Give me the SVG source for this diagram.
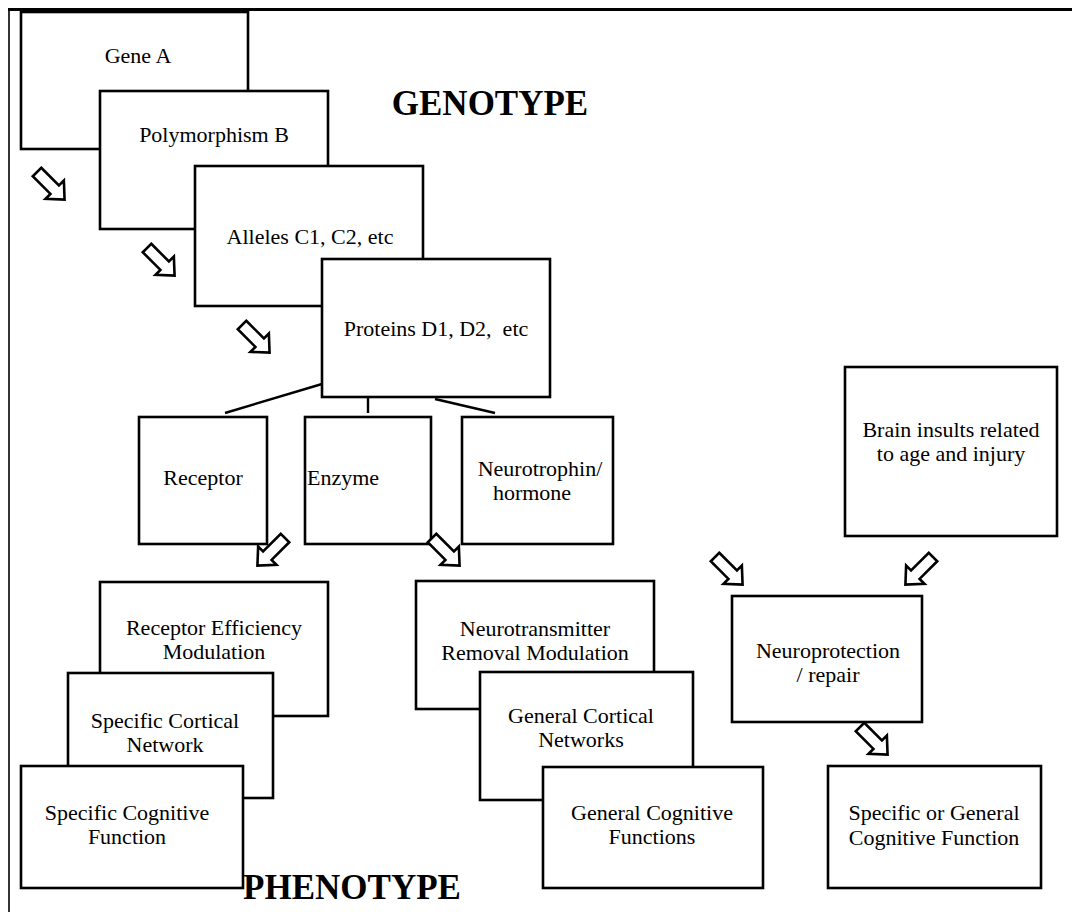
<svg xmlns="http://www.w3.org/2000/svg" xmlns:xlink="http://www.w3.org/1999/xlink" width="1072" height="912" viewBox="0 0 1072 912">
  <style>
    .box { fill: #fff; stroke: #000; stroke-width: 2.6; }
    .lbl { font-family: "Liberation Serif", "Times New Roman", serif; font-size: 22px; fill: #000; text-anchor: middle; }
    .head { font-family: "Liberation Serif", "Times New Roman", serif; font-size: 35px; font-weight: bold; fill: #000; text-anchor: middle; }
    .link { stroke: #000; stroke-width: 2.4; fill: none; }
    .blk { fill: #fff; stroke: #000; stroke-width: 2.6; stroke-linejoin: miter; }
  </style>
  <defs>
    <!-- hollow block arrow, tail at origin, pointing along +x -->
    <path id="blockArrow" class="blk" d="M0,-6 H25 V-13 L39,0 L25,13 V6 H0 Z"/>
  </defs>
  <rect width="1072" height="912" fill="#fff"/>

  <!-- page frame -->
  <g id="frame">
    <line x1="8" y1="9.5" x2="1072" y2="9.5" stroke="#000" stroke-width="3"/>
    <line x1="9" y1="8" x2="9" y2="912" stroke="#000" stroke-width="1.6"/>
  </g>

  <g id="genotype-title"><text class="head" x="490" y="115">GENOTYPE</text></g>
  <g id="phenotype-title"><text class="head" x="352" y="899">PHENOTYPE</text></g>

  <!-- genotype cascade -->
  <g id="gene-a">
    <rect class="box" x="21" y="12" width="227" height="137"/>
    <text class="lbl" x="138" y="63">Gene A</text>
  </g>
  <g id="polymorphism-b">
    <rect class="box" x="100" y="91" width="228" height="138"/>
    <text class="lbl" x="214" y="142">Polymorphism B</text>
  </g>
  <g id="alleles">
    <rect class="box" x="195" y="166" width="228" height="140"/>
    <text class="lbl" x="310" y="244">Alleles C1, C2, etc</text>
  </g>
  <g id="proteins">
    <rect class="box" x="322" y="259" width="228" height="138"/>
    <text class="lbl" x="436" y="336" xml:space="preserve">Proteins D1, D2,  etc</text>
  </g>

  <!-- protein classes -->
  <g id="receptor">
    <rect class="box" x="139" y="417" width="128" height="127"/>
    <text class="lbl" x="203" y="485">Receptor</text>
  </g>
  <g id="enzyme">
    <rect class="box" x="305" y="417" width="126" height="127"/>
    <text class="lbl" x="343" y="485">Enzyme</text>
  </g>
  <g id="neurotrophin">
    <rect class="box" x="462" y="417" width="151" height="127"/>
    <text class="lbl" x="540" y="476">Neurotrophin/</text>
    <text class="lbl" x="532" y="500">hormone</text>
  </g>
  <g id="brain-insults">
    <rect class="box" x="845" y="367" width="212" height="169"/>
    <text class="lbl" x="951" y="437">Brain insults related</text>
    <text class="lbl" x="951" y="461">to age and injury</text>
  </g>

  <!-- receptor branch -->
  <g id="receptor-efficiency">
    <rect class="box" x="100" y="582" width="228" height="134"/>
    <text class="lbl" x="214" y="635">Receptor Efficiency</text>
    <text class="lbl" x="214" y="659">Modulation</text>
  </g>
  <g id="specific-network">
    <rect class="box" x="68" y="673" width="205" height="125"/>
    <text class="lbl" x="165" y="728">Specific Cortical</text>
    <text class="lbl" x="165" y="752">Network</text>
  </g>
  <g id="specific-cognitive">
    <rect class="box" x="21" y="766" width="222" height="122"/>
    <text class="lbl" x="127" y="820">Specific Cognitive</text>
    <text class="lbl" x="127" y="844">Function</text>
  </g>

  <!-- enzyme branch -->
  <g id="neurotransmitter-removal">
    <rect class="box" x="416" y="581" width="238" height="128"/>
    <text class="lbl" x="535" y="636">Neurotransmitter</text>
    <text class="lbl" x="535" y="660">Removal Modulation</text>
  </g>
  <g id="general-networks">
    <rect class="box" x="480" y="672" width="213" height="128"/>
    <text class="lbl" x="581" y="723">General Cortical</text>
    <text class="lbl" x="581" y="747">Networks</text>
  </g>
  <g id="general-cognitive">
    <rect class="box" x="543" y="767" width="220" height="121"/>
    <text class="lbl" x="652" y="820">General Cognitive</text>
    <text class="lbl" x="652" y="844">Functions</text>
  </g>

  <!-- neuroprotection branch -->
  <g id="neuroprotection">
    <rect class="box" x="732" y="596" width="190" height="126"/>
    <text class="lbl" x="828" y="658">Neuroprotection</text>
    <text class="lbl" x="828" y="682">/ repair</text>
  </g>
  <g id="specific-or-general">
    <rect class="box" x="828" y="766" width="213" height="122"/>
    <text class="lbl" x="934" y="820">Specific or General</text>
    <text class="lbl" x="934" y="845">Cognitive Function</text>
  </g>

  <!-- connectors -->
  <g id="connectors">
    <line class="link" x1="322" y1="384" x2="225" y2="413"/>
    <line class="link" x1="368" y1="397" x2="368" y2="413"/>
    <line class="link" x1="435" y1="399" x2="495" y2="413"/>
    <use xlink:href="#blockArrow" transform="translate(37,172) rotate(45)"/>
    <use xlink:href="#blockArrow" transform="translate(147,248) rotate(45)"/>
    <use xlink:href="#blockArrow" transform="translate(242,325) rotate(45)"/>
    <use xlink:href="#blockArrow" transform="translate(285,538) rotate(135)"/>
    <use xlink:href="#blockArrow" transform="translate(432,538) rotate(45)"/>
    <use xlink:href="#blockArrow" transform="translate(715,557) rotate(45)"/>
    <use xlink:href="#blockArrow" transform="translate(933,557) rotate(135)"/>
    <use xlink:href="#blockArrow" transform="translate(860,727) rotate(45)"/>
  </g>
</svg>
